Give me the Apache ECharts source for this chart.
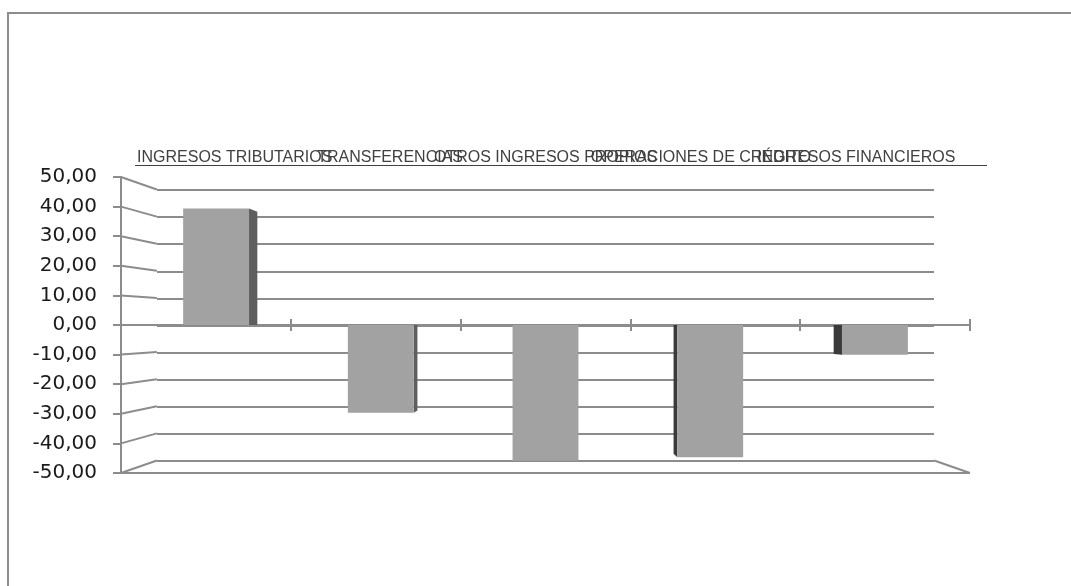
<!DOCTYPE html>
<html>
<head>
<meta charset="utf-8">
<title>Ingresos</title>
<script src="https://cdn.jsdelivr.net/npm/echarts@6/dist/echarts.min.js"></script>
<style>
  html, body { margin: 0; padding: 0; background: #fff; }
  #chart { width: 1071px; height: 586px; }
</style>
</head>
<body>
<div id="chart"></div>
<script>
const categories = [
  'INGRESOS TRIBUTARIOS',
  'TRANSFERENCIAS',
  'OTROS INGRESOS PROPIOS',
  'OPERACIONES DE CRÉDITO',
  'INGRESOS FINANCIEROS'
]
const values = [40.6, -30.6, -47.3, -46.1, -10.4]
const yTicks = [50, 40, 30, 20, 10, 0, -10, -20, -30, -40, -50]

const Y_MIN = Math.min(...yTicks)
const Y_MAX = Math.max(...yTicks)
const Y_STEP = yTicks[0] - yTicks[1]

const LINE = '#8c8c8c'
const H = 586
// plano frontal y pared del fondo (falso 3D)
const front = { left: 121, right: 101, top: 177, bottom: 113 }
const back = { left: 157, right: 137, top: 190, bottom: 125 }
const depth = (H - back.top - back.bottom) / (H - front.top - front.bottom)

const fmt = (v) => v.toFixed(2).replace('.', ',')

const chart = echarts.init(document.getElementById('chart'))

const hiddenY = (gridIndex) => ({
  type: 'value', gridIndex, min: Y_MIN, max: Y_MAX, interval: Y_STEP,
  axisLine: { show: false }, axisTick: { show: false },
  axisLabel: { show: false }, splitLine: { show: false }
})

const option = {
  animation: false,
  backgroundColor: '#fff',
  grid: [
    { left: front.left, right: front.right, top: front.top, bottom: front.bottom },
    { left: back.left, right: back.right, top: back.top, bottom: back.bottom },
    // copia del plano frontal: solo para las marcas hacia arriba del eje cero
    { left: front.left, right: front.right, top: front.top, bottom: front.bottom }
  ],
  xAxis: [
    {
      type: 'category', gridIndex: 0, data: categories,
      axisLine: { onZero: true, lineStyle: { color: LINE, width: 2 } },
      axisTick: { show: true, length: 6, interval: 0, lineStyle: { color: LINE, width: 2 } },
      axisLabel: { show: false },
      splitLine: { show: false }
    },
    {
      type: 'category', gridIndex: 1, position: 'top', data: categories,
      axisLine: { show: false },
      axisTick: { show: false },
      axisLabel: {
        interval: 0, margin: 24,
        fontFamily: 'Liberation Sans', fontSize: 16, color: '#404040'
      },
      splitLine: { show: false }
    },
    {
      type: 'category', gridIndex: 2, data: categories,
      axisLine: { onZero: true, lineStyle: { color: LINE, width: 2 } },
      axisTick: { show: true, inside: true, length: 6, interval: 0, lineStyle: { color: LINE, width: 2 } },
      axisLabel: { show: false },
      splitLine: { show: false }
    }
  ],
  yAxis: [
    {
      type: 'value', gridIndex: 0, min: Y_MIN, max: Y_MAX, interval: Y_STEP,
      axisLine: { show: true, lineStyle: { color: LINE, width: 2 } },
      axisTick: { show: true, length: 8, lineStyle: { color: LINE, width: 2 } },
      axisLabel: {
        formatter: fmt, margin: 24,
        fontFamily: 'DejaVu Sans', fontSize: 20, color: '#1a1a1a'
      },
      splitLine: { show: false }
    },
    {
      type: 'value', gridIndex: 1, min: Y_MIN, max: Y_MAX, interval: Y_STEP,
      axisLine: { show: false },
      axisTick: { show: false },
      axisLabel: { show: false },
      splitLine: { show: true, lineStyle: { color: LINE, width: 2 } }
    },
    hiddenY(2)
  ],
  series: [
    {
      // lineas de perspectiva entre el eje frontal y la pared del fondo
      type: 'custom', xAxisIndex: 0, yAxisIndex: 0, silent: true, z: 1,
      data: yTicks.map((v) => [0, v]),
      renderItem: (params, api) => {
        const cs = params.coordSys
        const vp = [cs.x + cs.width / 2, api.coord([0, 0])[1]]
        const p = (x, y, k) => [vp[0] + (x - vp[0]) * k, vp[1] + (y - vp[1]) * k]
        const v = api.value(1)
        const y = api.coord([0, v])[1]
        const style = { stroke: LINE, lineWidth: 2 }
        const seg = (a, b) => ({ type: 'line', shape: { x1: a[0], y1: a[1], x2: b[0], y2: b[1] }, style })
        const a = [cs.x, y]
        const children = [seg(a, p(a[0], y, depth))]
        if (v === Y_MIN) {
          // suelo
          const c = [cs.x + cs.width, y]
          children.push(seg(a, c))
          children.push(seg(c, p(c[0], y, depth)))
        }
        return { type: 'group', children }
      }
    },
    {
      type: 'custom', xAxisIndex: 0, yAxisIndex: 0, z: 5,
      data: values.map((v, i) => [i, v]),
      renderItem: (params, api) => {
        const cs = params.coordSys
        const i = api.value(0)
        const v = api.value(1)
        const base = api.coord([i, 0])
        const tip = api.coord([i, v])
        const vp = [cs.x + cs.width / 2, base[1]]
        const p = (x, y, k) => [vp[0] + (x - vp[0]) * k, vp[1] + (y - vp[1]) * k]
        const half = api.size([1, 0])[0] * 0.2
        const kFront = 0.97
        const kSide = kFront * 0.972
        const tl = p(base[0] - half, tip[1], kFront)
        const br = p(base[0] + half, base[1], kFront)
        const children = []
        if (Math.abs(base[0] - vp[0]) > 1) {
          const leftOfCenter = base[0] < vp[0]
          const ex = leftOfCenter ? base[0] + half : base[0] - half
          children.push({
            type: 'polygon',
            shape: { points: [p(ex, tip[1], kFront), p(ex, tip[1], kSide), p(ex, base[1], kSide), p(ex, base[1], kFront)] },
            style: { fill: leftOfCenter ? '#5e5e5e' : '#3a3a3a' }
          })
        }
        children.push({
          type: 'rect',
          shape: {
            x: Math.min(tl[0], br[0]), y: Math.min(tl[1], br[1]),
            width: Math.abs(br[0] - tl[0]), height: Math.abs(br[1] - tl[1])
          },
          style: { fill: '#a2a2a2' }
        })
        return { type: 'group', children }
      }
    }
  ],
  graphic: [
    {
      type: 'rect', silent: true,
      shape: { x: 8, y: 13, width: 1200, height: 700 },
      style: { fill: null, stroke: LINE, lineWidth: 2 }
    },
    {
      type: 'line', silent: true,
      shape: { x1: 135, y1: 165.5, x2: 987, y2: 165.5 },
      style: { stroke: '#404040', lineWidth: 1 }
    }
  ]
}

chart.setOption(option)
</script>
</body>
</html>
